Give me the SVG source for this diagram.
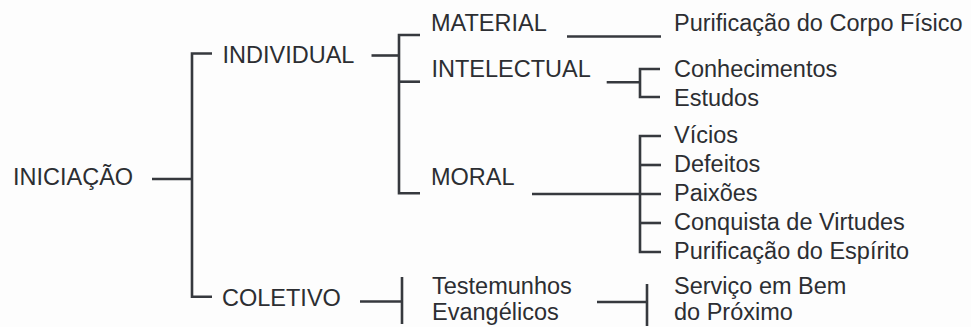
<svg xmlns="http://www.w3.org/2000/svg" width="971" height="327" viewBox="0 0 971 327">
  <style>
    .lbl { font-family: "Liberation Sans", Arial, sans-serif; font-size: 23.5px; fill: #2c2e32; }
    .wire { fill: none; stroke: #36393e; stroke-width: 2.6; stroke-linecap: butt; stroke-linejoin: miter; }
  </style>
  <rect x="0" y="0" width="971" height="327" fill="#fdfdfd"/>

  <!-- bracket connectors -->
  <g id="connectors" class="wire">
    <path d="M152 179 H192"/>
    <path d="M212 53.5 H192 V296.7 H212"/>
    <path d="M371.5 55.5 H399"/>
    <path d="M420 35 H399 V193.3 H420"/>
    <path d="M399 81.7 H420"/>
    <path d="M567 36.5 H661"/>
    <path d="M606.7 82.3 H640"/>
    <path d="M660 69 H640 V97 H660"/>
    <path d="M532 194 H661"/>
    <path d="M661 136 H640 V252 H661"/>
    <path d="M640 165 H661"/>
    <path d="M640 223 H661"/>
    <path d="M360 301.5 H402"/>
    <path d="M402 277 V324"/>
    <path d="M597 302 H647"/>
    <path d="M647 284 V326"/>
  </g>

  <!-- root -->
  <g id="n-iniciacao"><text class="lbl" x="13" y="185">INICIAÇÃO</text></g>

  <!-- first level -->
  <g id="n-individual"><text class="lbl" x="222.5" y="62.5">INDIVIDUAL</text></g>
  <g id="n-coletivo"><text class="lbl" x="222" y="306">COLETIVO</text></g>

  <!-- second level -->
  <g id="n-material"><text class="lbl" x="431" y="31">MATERIAL</text></g>
  <g id="n-intelectual"><text class="lbl" x="431.5" y="76.7">INTELECTUAL</text></g>
  <g id="n-moral"><text class="lbl" x="431" y="184.5">MORAL</text></g>
  <g id="n-testemunhos">
    <text class="lbl" x="432" y="294">Testemunhos</text>
    <text class="lbl" x="432" y="320">Evangélicos</text>
  </g>

  <!-- leaves -->
  <g id="n-corpo"><text class="lbl" x="674" y="30.5">Purificação do Corpo Físico</text></g>
  <g id="n-conhecimentos"><text class="lbl" x="674" y="77">Conhecimentos</text></g>
  <g id="n-estudos"><text class="lbl" x="674" y="106">Estudos</text></g>
  <g id="n-vicios"><text class="lbl" x="674" y="143">Vícios</text></g>
  <g id="n-defeitos"><text class="lbl" x="674" y="172">Defeitos</text></g>
  <g id="n-paixoes"><text class="lbl" x="674" y="201">Paixões</text></g>
  <g id="n-virtudes"><text class="lbl" x="674" y="230">Conquista de Virtudes</text></g>
  <g id="n-espirito"><text class="lbl" x="674" y="259">Purificação do Espírito</text></g>
  <g id="n-servico">
    <text class="lbl" x="674" y="294">Serviço em Bem</text>
    <text class="lbl" x="674" y="320">do Próximo</text>
  </g>
</svg>
